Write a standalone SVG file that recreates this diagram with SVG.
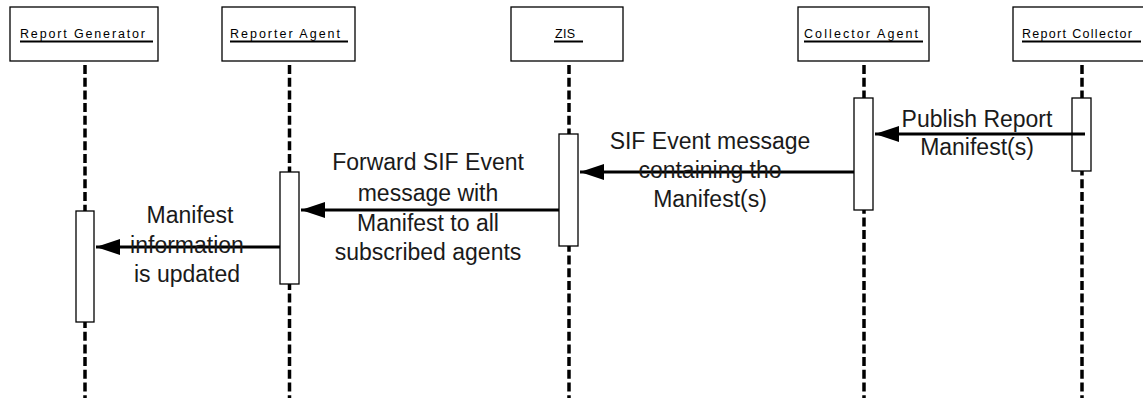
<svg xmlns="http://www.w3.org/2000/svg" width="1143" height="398" viewBox="0 0 1143 398">
<style>
.hdr{fill:#fff;stroke:#000;stroke-width:1.3}
.hl{font-family:"Liberation Sans",Arial,sans-serif;font-size:12.5px;fill:#000}
.ul{stroke:#000;stroke-width:2}
.life{stroke:#000;stroke-width:3.5;stroke-dasharray:9 3.7;fill:none}
.act{fill:#fff;stroke:#000;stroke-width:1.3}
.msg{stroke:#000;stroke-width:3;fill:none;marker-end:url(#ah)}
.lbl{font-family:"Liberation Sans",Arial,sans-serif;font-size:23px;fill:#1a1a1a;text-anchor:middle}
</style>
<defs>
<marker id="ah" markerWidth="8" markerHeight="6" refX="8" refY="3" orient="auto" markerUnits="strokeWidth">
<path d="M0,0.3 L8,3 L0,5.7 Z" fill="#000"/>
</marker>
</defs>
<rect width="1143" height="398" fill="#fff"/>
<g id="report-generator">
<rect class="hdr" x="10" y="7" width="148" height="54"/>
<text class="hl" x="20" y="38" textLength="125" lengthAdjust="spacing">Report Generator</text>
<line class="ul" x1="20" y1="41.5" x2="153" y2="41.5"/>
<line class="life" x1="85" y1="65" x2="85" y2="398"/>
<rect class="act" x="76" y="211" width="18" height="111"/>
</g>
<g id="reporter-agent">
<rect class="hdr" x="222" y="7" width="133" height="54"/>
<text class="hl" x="230" y="38" textLength="110" lengthAdjust="spacing">Reporter Agent</text>
<line class="ul" x1="230" y1="41.5" x2="348" y2="41.5"/>
<line class="life" x1="289.5" y1="65" x2="289.5" y2="398"/>
<rect class="act" x="280" y="172" width="19" height="112"/>
</g>
<g id="zis">
<rect class="hdr" x="511" y="7" width="112" height="54"/>
<text class="hl" x="555" y="38" textLength="20" lengthAdjust="spacing">ZIS</text>
<line class="ul" x1="554" y1="41.5" x2="583" y2="41.5"/>
<line class="life" x1="569" y1="65" x2="569" y2="398"/>
<rect class="act" x="559" y="134" width="19" height="112"/>
</g>
<g id="collector-agent">
<rect class="hdr" x="798" y="7" width="131" height="54"/>
<text class="hl" x="804" y="38" textLength="114" lengthAdjust="spacing">Collector Agent</text>
<line class="ul" x1="804" y1="41.5" x2="923" y2="41.5"/>
<line class="life" x1="864" y1="65" x2="864" y2="398"/>
<rect class="act" x="854" y="98" width="19" height="112"/>
</g>
<g id="report-collector">
<rect class="hdr" x="1013" y="7" width="135" height="54"/>
<text class="hl" x="1022" y="38" textLength="110" lengthAdjust="spacing">Report Collector</text>
<line class="ul" x1="1022" y1="41.5" x2="1141" y2="41.5"/>
<line class="life" x1="1082" y1="65" x2="1082" y2="398"/>
<rect class="act" x="1072" y="98" width="19" height="73"/>
</g>
<g id="connectors">
<line class="msg" x1="1085" y1="134" x2="875" y2="134"/>
<line class="msg" x1="854" y1="172" x2="580" y2="172"/>
<line class="msg" x1="559" y1="210" x2="301" y2="210"/>
<line class="msg" x1="280" y1="247" x2="96" y2="247"/>
</g>
<g id="labels">
<text class="lbl" x="977" y="127">Publish Report</text>
<text class="lbl" x="977" y="155">Manifest(s)</text>
<text class="lbl" x="710" y="149">SIF Event message</text>
<text class="lbl" x="710" y="178">containing tho</text>
<text class="lbl" x="710" y="207">Manifest(s)</text>
<text class="lbl" x="428" y="170">Forward SIF Event</text>
<text class="lbl" x="428" y="201">message with</text>
<text class="lbl" x="428" y="231">Manifest to all</text>
<text class="lbl" x="428" y="260">subscribed agents</text>
<text class="lbl" x="190" y="223">Manifest</text>
<text class="lbl" x="187" y="253">information</text>
<text class="lbl" x="187" y="282">is updated</text>
</g>
</svg>
